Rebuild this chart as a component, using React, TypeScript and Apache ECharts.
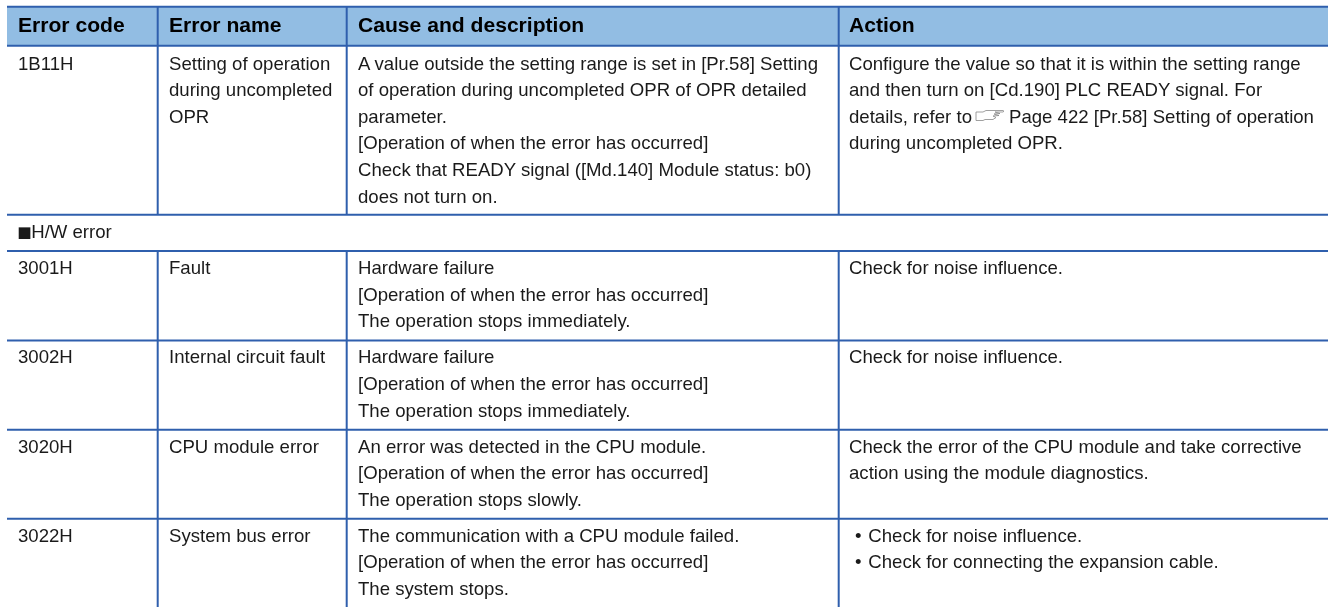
import React, { useEffect, useRef } from "react";
import * as echarts from "echarts";

const W = 1328;
const H = 607;
const FONT = '"Liberation Sans", Arial, sans-serif';
const SIZE = 18.6;
const HEAD_SIZE = 21.1;
const BLUE = "#2f5fad";
const HEAD_BG = "#92bde3";
const INK = "#1a1a1a";

const columnX = [157.7, 346.7, 838.7];
const rowLines = [45.7, 214.7, 251, 340.5, 429.7, 518.7];
const headers = ["Error code", "Error name", "Cause and description", "Action"];
const textX = [18, 169, 358, 849];

const row1B11 = {
  y: 63,
  cells: [
    ["1B11H"],
    ["Setting of operation", "during uncompleted", "OPR"],
    [
      "A value outside the setting range is set in [Pr.58] Setting",
      "of operation during uncompleted OPR of OPR detailed",
      "parameter.",
      "[Operation of when the error has occurred]",
      "Check that READY signal ([Md.140] Module status: b0)",
      "does not turn on.",
    ],
    [
      "Configure the value so that it is within the setting range",
      "and then turn on [Cd.190] PLC READY signal. For",
      "details, refer to",
      "during uncompleted OPR.",
    ],
  ],
};
const row3001 = {
  y: 267.6,
  cells: [
    ["3001H"],
    ["Fault"],
    ["Hardware failure", "[Operation of when the error has occurred]", "The operation stops immediately."],
    ["Check for noise influence."],
  ],
};
const row3002 = {
  y: 356.9,
  cells: [
    ["3002H"],
    ["Internal circuit fault"],
    ["Hardware failure", "[Operation of when the error has occurred]", "The operation stops immediately."],
    ["Check for noise influence."],
  ],
};
const row3020 = {
  y: 446.2,
  cells: [
    ["3020H"],
    ["CPU module error"],
    ["An error was detected in the CPU module.", "[Operation of when the error has occurred]", "The operation stops slowly."],
    ["Check the error of the CPU module and take corrective", "action using the module diagnostics."],
  ],
};
const row3022 = {
  y: 535.3,
  cells: [
    ["3022H"],
    ["System bus error"],
    ["The communication with a CPU module failed.", "[Operation of when the error has occurred]", "The system stops."],
    [],
  ],
};
const rows = [row1B11, row3001, row3002, row3020, row3022];
const bullets = ["Check for noise influence.", "Check for connecting the expansion cable."];
const crossRef = "Page 422 [Pr.58] Setting of operation";

const HAND =
  "M0 1.5 L7 1.5 L10 0 L27 0 Q29 0.7 27 1.5 L19 1.5 M19 1.5 L24 3 L18 3.5 M18 3.5 L23 5 L17 5.5 M17 5.5 L20 7 L17 9 L9 9 L7 10 L0 10 L0 1.5";

function text(x: number, y: number, t: string, bold = false, font = FONT, size = bold ? HEAD_SIZE : SIZE) {
  return {
    type: "text",
    x,
    y,
    silent: true,
    style: {
      text: t,
      x: 0,
      y: 0,
      fill: bold ? "#000" : INK,
      font: `${bold ? "bold " : ""}${size}px ${font}`,
      textAlign: "left",
      textVerticalAlign: "middle",
    },
  };
}

function line(x1: number, y1: number, x2: number, y2: number) {
  return {
    type: "line",
    silent: true,
    shape: { x1, y1, x2, y2 },
    style: { stroke: BLUE, lineWidth: 2 },
  };
}

export default function App() {
  const ref = useRef<HTMLDivElement>(null);
  useEffect(() => {
    document.body.style.margin = "0";
    const chart = echarts.init(ref.current!, null, { renderer: "svg" });
    echarts.graphic.registerShape("hand", echarts.graphic.extendPath(HAND, {}) as any);
    const els: any[] = [];
    els.push({
      type: "rect",
      silent: true,
      shape: { x: 7, y: 7, width: W - 7, height: 39 },
      style: { fill: HEAD_BG },
    });
    els.push(line(7, 6.7, W, 6.7));
    rowLines.forEach((y) => els.push(line(7, y, W, y)));
    const segs: [number, number][] = [
      [6.7, 214.7],
      [251, 607],
    ];
    columnX.forEach((x) => segs.forEach(([a, b]) => els.push(line(x, a, x, b))));
    headers.forEach((h, i) => els.push(text(textX[i], 24.7, h, true)));
    rows.forEach((r) =>
      r.cells.forEach((c, i) =>
        c.forEach((t, k) => els.push(text(textX[i], r.y + k * 26.6, t))),
      ),
    );
    bullets.forEach((t, k) => {
      const y = row3022.y + k * 26.6;
      els.push(text(855, y, "•"));
      els.push(text(868.3, y, t));
    });
    els.push(text(17.2, 232.2, "■", false, '"Noto Sans CJK JP"', 14.6));
    els.push(text(31.2, 231.9, "H/W error"));
    els.push(text(1009, 116, crossRef));
    els.push({
      type: "hand",
      x: 976,
      y: 110.5,
      silent: true,
      style: { fill: "none", stroke: "#888", lineWidth: 0.8 },
    });
    chart.setOption({ animation: false, graphic: { elements: els } });
    return () => chart.dispose();
  }, []);
  return <div ref={ref} style={{ position: "fixed", left: 0, top: 0, width: W, height: H }} />;
}
